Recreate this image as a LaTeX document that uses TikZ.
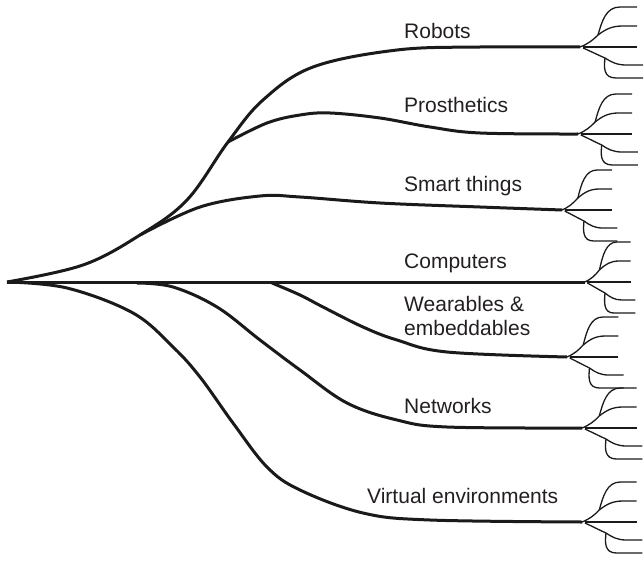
\documentclass[tikz,border=0pt]{standalone}
\usepackage{fontspec}
\setmainfont{Liberation Sans}
\definecolor{ink}{HTML}{1A1A1A}
\definecolor{txt}{HTML}{231F20}
\begin{document}
\begin{tikzpicture}[x=1pt,y=-1pt,
  branch/.style={draw=ink,line width=3pt,line join=round},
  fanline/.style={draw=ink,line width=1.3pt},
  lbl/.style={anchor=base west,inner sep=0pt,text=txt,font=\fontsize{21}{24}\selectfont,align=left},
  fan/.pic={
    \draw[fanline] (0,0) .. controls (8,-3) and (13,-7) .. (18,-12);
    \draw[fanline] (18,-12) .. controls (22,-26) and (26,-40) .. (40,-40) -- (57,-40);
    \draw[fanline] (18,-12) .. controls (26,-18) and (32,-21) .. (43,-21) -- (57,-21);
    \draw[fanline] (3,0) -- (57,0);
    \draw[fanline] (3,1) .. controls (10,4) and (18,8) .. (25,11);
    \draw[fanline] (25,11) .. controls (31,15) and (37,18) .. (46,18) -- (63,18);
    \draw[fanline] (25,11) .. controls (24,20) and (23,31) .. (36,31) -- (63,31);
  }]
\useasboundingbox (0,0) rectangle (644,561);
% junctions and ends
\coordinate (root) at (7,282);
\coordinate (j1) at (140,235);
\coordinate (j2) at (228,142);
\coordinate (j3) at (137,283);
\coordinate (j4) at (272,283);
\coordinate (e1) at (580,47);
\coordinate (e2) at (578,134);
\coordinate (e3) at (562,210);
\coordinate (e4) at (585,282);
\coordinate (e5) at (567,357);
\coordinate (e6) at (582,428);
\coordinate (e7) at (582,522);
% branches
\draw[branch] plot[smooth,tension=0.6] coordinates {(root) (83,265) (j1) (187,200) (j2) (263,100) (313,67) (397,50) (480,47) (e1)};
\draw[branch] plot[smooth,tension=0.6] coordinates {(j2) (267,123) (300,115) (330,113) (380,118) (430,127) (480,133) (e2)};
\draw[branch] plot[smooth,tension=0.6] coordinates {(j1) (200,207) (260,196) (300,197) (380,203) (480,207) (e3)};
\draw[branch] (root) -- (e4);
\draw[branch] plot[smooth,tension=0.6] coordinates {(j4) (300,295) (323,307) (363,327) (397,340) (447,352) (e5)};
\draw[branch] plot[smooth,tension=0.6] coordinates {(j3) (173,287) (217,307) (260,340) (300,370) (347,403) (397,420) (447,427) (e6)};
\draw[branch] plot[smooth,tension=0.6] coordinates {(root) (67,288) (133,313) (173,347) (200,377) (233,423) (267,467) (300,490) (363,513) (430,520) (e7)};
% fans
\pic at (e1) {fan};
\pic[xscale=0.95] at (e2) {fan};
\pic[xscale=0.88] at (e3) {fan};
\pic[xscale=0.8] at (e4) {fan};
\pic[xscale=0.9] at (e5) {fan};
\pic[xscale=0.96] at (e6) {fan};
\pic[xscale=0.96] at (e7) {fan};
% labels
\node[lbl] (l1) at (404,39) {Robots};
\node[lbl] (l2) at (404,113) {Prosthetics};
\node[lbl] (l3) at (404,192) {Smart things};
\node[lbl] (l4) at (404,268) {Computers};
\node[lbl] (l5) at (404,335) {Wearables \&\\embeddables};
\node[lbl] (l6) at (404,413) {Networks};
\node[lbl] (l7) at (367,503) {Virtual environments};
\end{tikzpicture}
\end{document}
